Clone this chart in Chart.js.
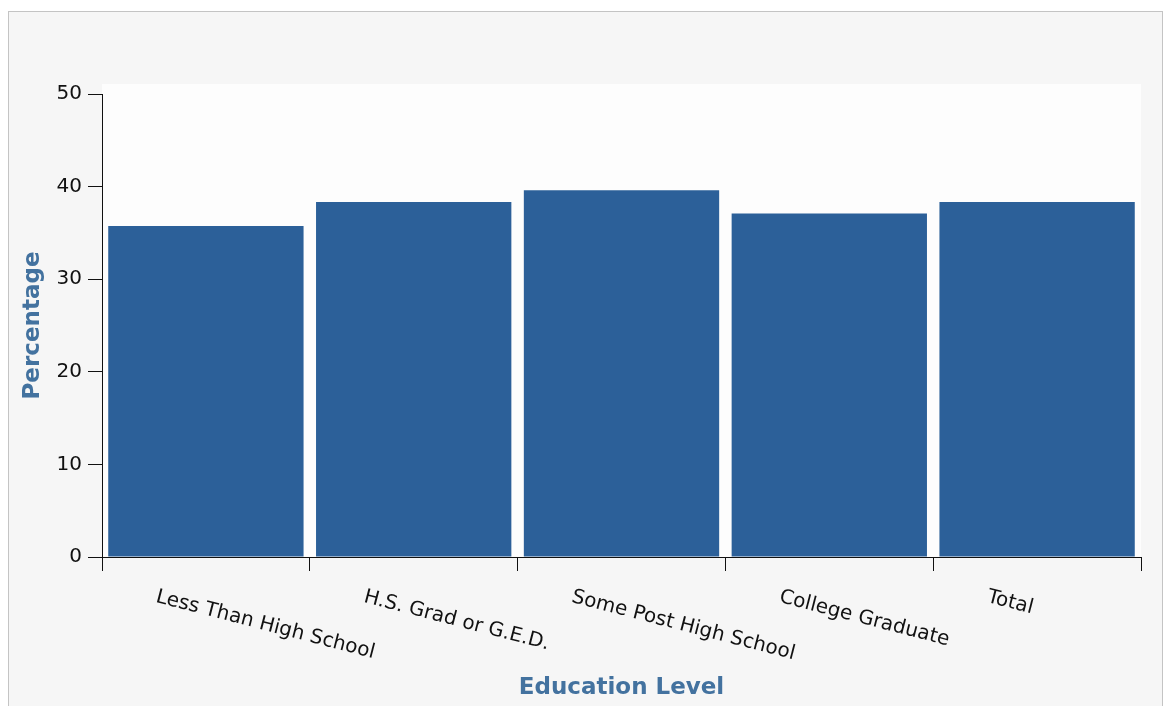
<!DOCTYPE html>
<html><head><meta charset="utf-8">
<script src="https://cdn.jsdelivr.net/npm/chart.js@4"></script>
<style>
html,body{margin:0;padding:0;background:#fff;overflow:hidden;}
#frame{position:absolute;left:8px;top:11px;width:1153px;height:700px;border:1px solid #c4c4c4;background:#f6f6f6;}
#wrap{position:absolute;left:0;top:0;width:1168px;height:706px;}
</style></head><body>
<div id="frame"></div>
<div id="wrap"><canvas id="c" width="1168" height="706"></canvas></div>
<script>
const categories = ['Less Than High School', 'H.S. Grad or G.E.D.', 'Some Post High School', 'College Graduate', 'Total'];
const percentages = [35.75, 38.35, 39.6, 37.1, 38.35];
const yTickValues = [0, 10, 20, 30, 40, 50];
const xTitle = 'Education Level';
const yTitle = 'Percentage';

const titleColor = '#43729f';
const axisColor = '#111';

const plotBg = {
  id: 'plotBg',
  beforeDraw(chart) {
    const {ctx, chartArea: a} = chart;
    ctx.save();
    ctx.fillStyle = '#fdfdfd';
    ctx.fillRect(a.left, a.top - 10, a.right - a.left, a.bottom - a.top + 10);
    ctx.restore();
  }
};

const slantLabels = {
  id: 'slantLabels',
  afterDraw(chart) {
    const x = chart.scales.x;
    const ctx = chart.ctx;
    ctx.save();
    ctx.font = '20px "DejaVu Sans"';
    ctx.fillStyle = '#111';
    ctx.textAlign = 'left';
    ctx.textBaseline = 'top';
    chart.data.labels.forEach((lab, i) => {
      const cx = x.getPixelForValue(i);
      ctx.save();
      ctx.translate(cx - 47, x.top + 30);
      ctx.rotate(14.5 * Math.PI / 180);
      ctx.fillText(lab, 0, 0);
      ctx.restore();
    });
    ctx.restore();
  }
};

new Chart(document.getElementById('c'), {
  type: 'bar',
  data: {
    labels: categories,
    datasets: [{
      data: percentages,
      backgroundColor: '#2c6099',
      borderWidth: 0,
      categoryPercentage: 1,
      barPercentage: 0.94
    }]
  },
  options: {
    responsive: false,
    animation: false,
    layout: { padding: { top: 94, right: 27, left: 0, bottom: 0 } },
    plugins: { legend: { display: false }, tooltip: { enabled: false } },
    scales: {
      x: {
        offset: true,
        ticks: { display: false },
        grid: { offset: true, drawOnChartArea: false, drawTicks: true, tickLength: 14, color: axisColor, lineWidth: 1 },
        border: { display: true, color: axisColor, width: 1 },
        title: { display: true, text: xTitle, color: titleColor, font: { family: 'DejaVu Sans', size: 23, weight: 'bold' }, padding: { top: 0, bottom: 4 } },
        afterFit(s) { s.height = 149; }
      },
      y: {
        min: 0, max: 50,
        afterBuildTicks(s) { s.ticks = yTickValues.map(v => ({ value: v })); },
        ticks: { color: '#111', font: { family: 'DejaVu Sans', size: 20 }, padding: 6 },
        grid: { drawOnChartArea: false, drawTicks: true, tickLength: 14, color: axisColor, lineWidth: 1 },
        border: { display: true, color: axisColor, width: 1 },
        title: { display: true, text: yTitle, color: titleColor, font: { family: 'DejaVu Sans', size: 23, weight: 'bold' }, padding: { top: 19, bottom: 0 } },
        afterFit(s) { s.width = 102; }
      }
    }
  },
  plugins: [plotBg, slantLabels]
});
</script>
</body></html>
